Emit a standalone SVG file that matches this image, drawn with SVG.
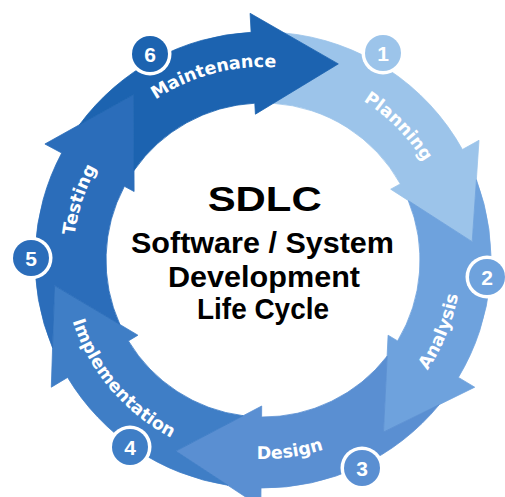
<svg xmlns="http://www.w3.org/2000/svg" width="505" height="497" viewBox="0 0 505 497">
<style>
.seg{stroke-width:0.8;stroke-linejoin:round}
.lbl{font-family:"DejaVu Sans","Liberation Sans",sans-serif;font-weight:bold;font-size:17.5px;fill:#ffffff}
.num{font-family:"Liberation Sans",Arial,sans-serif;font-weight:bold;font-size:21px;fill:#ffffff;text-anchor:middle}
.halo{fill:#ffffff}
.title{font-family:"Liberation Sans",Arial,sans-serif;font-weight:bold;fill:#000000}
</style>
<defs>
<path id="pMaint" d="M104.9,149.3 A193,193 0 0 1 344.6,85.1"/>
<path id="pPlan" d="M280.7,72.8 A188,188 0 0 1 450.4,244.9"/>
<path id="pAnal" d="M356.0,434.8 A198,198 0 0 0 451.3,198.8"/>
<path id="pDesign" d="M157.5,428.8 A199,199 0 0 0 410.9,393.2"/>
<path id="pImpl" d="M63.0,260.7 A200,200 0 0 0 229.0,457.1"/>
<path id="pTest" d="M86.6,330.6 A190,190 0 0 1 162.9,98.5"/>
</defs>
<rect width="505" height="497" fill="#ffffff"/>

<g id="planning">
<path class="seg" fill="#9cc4ea" stroke="#9cc4ea" d="M284.3,33.0 A228,228 0 0 1 462.4,149.5 L479.0,140.3 L472.2,241.7 L390.7,189.2 L400.3,183.9 A157,157 0 0 0 273.3,103.3 L338.3,63.9 Z"/>
<text class="lbl"><textPath href="#pPlan" startOffset="50%" text-anchor="middle">Planning</textPath></text>
<circle class="halo" cx="383" cy="53" r="21.5"/>
<circle cx="383" cy="53" r="18" fill="#9cc4ea"/>
<text class="num" x="383" y="60.5">1</text>
</g>

<g id="analysis">
<path class="seg" fill="#6ea2dd" stroke="#6ea2dd" d="M476.4,179.7 A228,228 0 0 1 458.4,377.4 L474.7,387.2 L383.5,432.0 L388.1,335.2 L397.6,340.9 A157,157 0 0 0 408.3,200.6 L472.2,241.7 Z"/>
<text class="lbl"><textPath href="#pAnal" startOffset="50%" text-anchor="middle">Analysis</textPath></text>
<circle class="halo" cx="487" cy="277" r="21.5"/>
<circle cx="487" cy="277" r="18" fill="#6ea2dd"/>
<text class="num" x="487" y="284.5">2</text>
</g>

<g id="design">
<path class="seg" fill="#5a8fd2" stroke="#5a8fd2" d="M439.3,404.6 A228,228 0 0 1 261.0,488.0 L260.8,507.0 L175.9,451.1 L261.7,406.0 L261.6,417.0 A157,157 0 0 0 387.2,356.1 L383.5,432.0 Z"/>
<text class="lbl"><textPath href="#pDesign" startOffset="50%" text-anchor="middle">Design</textPath></text>
<circle class="halo" cx="362" cy="468" r="21.5"/>
<circle cx="362" cy="468" r="18" fill="#5a8fd2"/>
<text class="num" x="362" y="475.5">3</text>
</g>

<g id="implementation">
<path class="seg" fill="#3f7ec6" stroke="#3f7ec6" d="M227.9,485.3 A228,228 0 0 1 67.6,377.4 L51.3,387.2 L54.6,285.6 L137.9,335.2 L128.4,340.9 A157,157 0 0 0 243.2,415.7 L175.9,451.1 Z"/>
<text class="lbl"><textPath href="#pImpl" startOffset="50%" text-anchor="middle">Implementation</textPath></text>
<circle class="halo" cx="130" cy="447" r="21.5"/>
<circle cx="130" cy="447" r="18" fill="#3f7ec6"/>
<text class="num" x="130" y="454.5">4</text>
</g>

<g id="testing">
<path class="seg" fill="#2b6dba" stroke="#2b6dba" d="M52.5,347.7 A228,228 0 0 1 61.7,153.0 L44.9,144.0 L133.7,94.5 L134.1,191.5 L124.4,186.3 A157,157 0 0 0 119.9,324.5 L54.6,285.6 Z"/>
<text class="lbl"><textPath href="#pTest" startOffset="50%" text-anchor="middle">Testing</textPath></text>
<circle class="halo" cx="31" cy="258" r="21.5"/>
<circle cx="31" cy="258" r="18" fill="#2b6dba"/>
<text class="num" x="31" y="265.5">5</text>
</g>

<g id="maintenance">
<path class="seg" fill="#1c63b0" stroke="#1c63b0" d="M79.5,124.7 A228,228 0 0 1 251.1,32.3 L250.1,13.3 L338.3,63.9 L255.4,114.2 L254.8,103.2 A157,157 0 0 0 134.0,170.5 L133.7,94.5 Z"/>
<text class="lbl"><textPath href="#pMaint" startOffset="50%" text-anchor="middle">Maintenance</textPath></text>
<circle class="halo" cx="150" cy="54" r="21.5"/>
<circle cx="150" cy="54" r="18" fill="#1c63b0"/>
<text class="num" x="150" y="61.5">6</text>
</g>

<g id="center-title">
<text class="title" x="207.7" y="211" font-size="35" textLength="114" lengthAdjust="spacingAndGlyphs">SDLC</text>
<text class="title" x="131" y="253" font-size="29.5" textLength="263" lengthAdjust="spacingAndGlyphs">Software / System</text>
<text class="title" x="168" y="287" font-size="29.5" textLength="192" lengthAdjust="spacingAndGlyphs">Development</text>
<text class="title" x="197" y="319" font-size="29.5" textLength="132" lengthAdjust="spacingAndGlyphs">Life Cycle</text>
</g>
</svg>
